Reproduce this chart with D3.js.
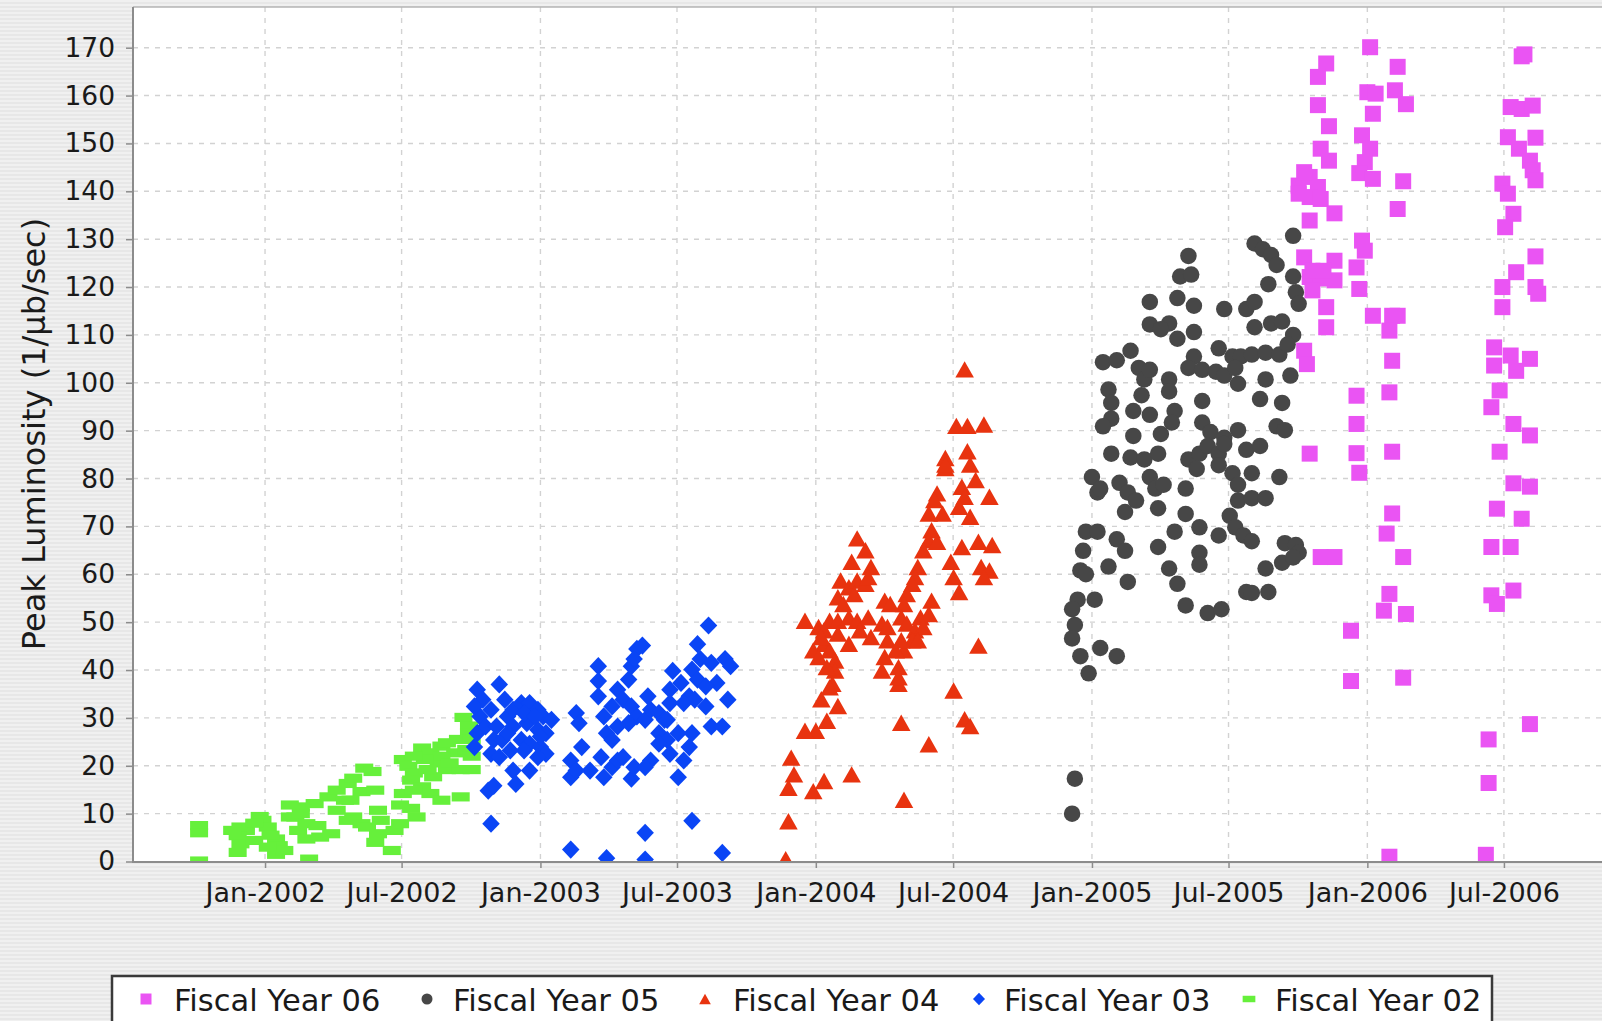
<!DOCTYPE html>
<html><head><meta charset="utf-8">
<script src="https://cdn.jsdelivr.net/npm/d3@7/dist/d3.min.js"></script>
<style>
html,body{margin:0;padding:0;background:#ededed;overflow:hidden}
svg{display:block}
text{font-family:"DejaVu Sans",Verdana,sans-serif}
</style></head>
<body>
<svg id="chart" width="1602" height="1021"></svg>
<script>
// ---- DATA: [fractional year, peak luminosity] ----
const seriesNames = ["Fiscal Year 06","Fiscal Year 05","Fiscal Year 04","Fiscal Year 03","Fiscal Year 02"];

const fy06 = [
[2006.01,170.1],[2005.85,166.7],[2005.82,163.9],[2006.11,166.0],[2005.82,158.0],[2006.00,160.7],[2006.03,160.4],[2006.10,161.1],[2006.14,158.2],[2006.02,156.2],[2005.86,153.6],[2005.98,151.7],[2005.83,148.9],[2005.86,146.4],[2006.01,148.9],[2005.99,146.1],[2005.97,143.8],[2006.02,142.6],[2006.13,142.1],
[2005.75,141.2],[2005.79,143.0],[2005.82,140.9],[2005.79,138.8],[2005.75,139.5],[2005.83,138.4],[2005.77,144.0],
[2005.88,135.4],[2005.79,133.9],[2006.11,136.3],
[2006.56,168.2],[2006.57,168.6],[2006.52,157.6],[2006.56,157.2],[2006.60,157.9],[2006.51,151.3],[2006.61,151.2],[2006.55,148.9],[2006.59,146.4],[2006.60,144.4],[2006.61,142.3],[2006.49,141.6],[2006.51,139.5],[2006.53,135.3],[2006.50,132.5],
[2005.77,126.2],[2005.88,125.5],[2005.79,122.1],[2005.83,121.8],[2005.88,121.4],[2005.80,119.3],[2005.85,115.8],[2005.85,111.6],[2005.98,129.7],[2005.99,127.6],[2005.96,124.1],[2005.97,119.6],[2006.02,114.0],[2006.09,114.0],[2006.11,114.0],[2006.08,110.9],[2006.09,104.6],[2006.08,98.0],[2005.96,97.3],[2005.96,91.4],[2005.77,106.7],[2005.78,103.9],[2005.80,123.4],[2005.84,123.4],
[2006.61,126.4],[2006.54,123.1],[2006.49,120.0],[2006.61,120.0],[2006.62,118.6],[2006.49,115.8],[2006.46,107.4],[2006.46,103.6],[2006.52,105.7],[2006.59,105.0],[2006.54,102.5],[2006.48,98.4],[2006.45,94.9],[2006.53,91.4],[2006.59,89.0],
[2005.79,85.2],[2005.96,85.3],[2006.09,85.6],[2006.48,85.6],[2005.97,81.2],[2006.53,79.0],[2006.59,78.3],[2006.47,73.7],[2006.56,71.6],[2006.09,72.7],[2006.07,68.5],[2006.45,65.7],[2006.52,65.7],[2006.13,63.6],[2005.83,63.6],[2005.88,63.6],[2006.08,55.9],[2006.06,52.4],[2006.14,51.7],[2006.45,55.6],[2006.47,53.8],[2006.53,56.6],[2005.94,48.2],[2005.94,37.7],[2006.13,38.4],[2006.59,28.7],[2006.44,25.5],[2006.44,16.4],[2006.08,1.0],[2006.43,1.4]
];

const fy05 = [
[2005.73,130.7],[2005.59,129.1],[2005.62,127.9],[2005.65,126.7],[2005.67,124.6],[2005.35,126.5],[2005.32,122.2],[2005.36,122.6],[2005.73,122.2],[2005.64,120.6],[2005.74,118.9],[2005.75,116.5],[2005.21,116.9],[2005.31,117.7],[2005.37,116.1],[2005.48,115.4],[2005.56,115.4],[2005.59,116.9],
[2005.21,112.2],[2005.28,112.4],[2005.25,111.2],[2005.31,109.2],[2005.37,110.6],[2005.59,111.6],[2005.65,112.4],[2005.69,112.8],[2005.73,110.0],[2005.46,107.2],[2005.14,106.7],[2005.04,104.3],[2005.09,104.7],[2005.37,105.5],[2005.35,103.1],[2005.40,102.7],[2005.51,105.5],[2005.54,105.5],[2005.58,105.9],[2005.63,106.3],[2005.68,105.9],[2005.71,108.0],[2005.72,101.5],
[2005.06,98.6],[2005.07,95.8],[2005.07,92.5],[2005.04,90.9],[2005.17,103.1],[2005.19,100.7],[2005.21,102.7],[2005.28,100.7],[2005.28,98.2],[2005.18,97.4],[2005.15,94.1],[2005.21,93.3],[2005.30,94.1],[2005.29,91.7],[2005.45,102.3],[2005.48,101.5],[2005.52,103.1],[2005.53,99.8],[2005.63,100.7],[2005.61,96.6],[2005.69,95.8],[2005.67,90.9],[2005.70,90.1],[2005.40,96.2],[2005.40,91.7],[2005.43,89.7],[2005.48,88.5],[2005.53,90.1],[2005.15,88.9],[2005.25,89.3],
[2005.07,85.2],[2005.14,84.4],[2005.19,84.0],[2005.24,85.2],[2005.35,84.0],[2005.39,85.2],[2005.42,86.8],[2005.46,85.2],[2005.48,87.2],[2005.56,86.0],[2005.61,86.8],[2005.38,82.0],[2005.46,82.8],[2005.51,81.1],[2005.53,78.7],[2005.58,81.1],
[2005.00,80.3],[2005.02,77.1],[2005.03,77.9],[2005.10,79.1],[2005.13,77.1],[2005.16,75.4],[2005.12,73.0],[2005.21,80.3],[2005.23,77.9],[2005.26,78.7],[2005.24,73.8],[2005.34,77.9],[2005.34,72.6],[2005.53,75.4],[2005.58,75.9],[2005.63,75.9],[2005.68,80.3],[2005.50,72.2],[2005.46,68.1],[2005.52,69.8],[2005.55,68.1],[2005.58,66.9],[2005.39,69.8],[2005.30,68.9],[2005.24,65.7],
[2004.98,68.9],[2005.02,68.9],[2004.97,64.9],[2004.96,60.8],[2004.98,60.0],[2005.09,67.3],[2005.12,64.9],[2005.06,61.6],[2005.13,58.4],[2005.28,61.2],[2005.31,58.0],[2005.39,64.5],[2005.39,62.0],[2005.69,62.4],[2005.70,66.5],[2005.74,66.1],[2005.75,64.5],[2005.73,63.5],[2005.63,61.2],[2005.56,56.3],[2005.58,56.1],[2005.64,56.3],[2005.34,53.5],[2005.42,51.9],[2005.47,52.7],
[2004.95,54.7],[2005.01,54.7],[2004.93,52.7],[2004.94,49.4],[2004.93,46.6],[2004.96,42.9],[2004.99,39.3],[2005.03,44.6],[2005.09,42.9],[2004.94,17.3],[2004.93,10.0]
];

const fy04 = [
[2004.54,102.8],[2004.51,91.0],[2004.55,91.0],[2004.61,91.3],[2004.55,85.7],[2004.56,82.9],[2004.58,79.7],[2004.47,84.3],[2004.47,82.2],[2004.47,82.9],
[2004.44,76.9],[2004.43,75.5],[2004.53,78.3],[2004.54,76.2],[2004.63,76.2],[2004.41,72.7],[2004.46,72.7],[2004.52,74.1],[2004.56,72.0],[2004.42,69.2],[2004.41,67.1],[2004.44,66.8],[2004.39,65.0],
[2004.53,65.7],[2004.59,66.8],[2004.64,66.1],[2004.49,62.6],[2004.50,59.4],[2004.52,56.3],[2004.60,61.5],[2004.63,60.8],[2004.61,59.4],
[2004.59,45.1],[2004.50,35.7],[2004.54,29.7],[2004.56,28.3],[2004.41,24.5],[2004.31,29.0],[2004.32,12.9],
[2004.37,61.5],[2004.36,59.4],[2004.35,58.0],[2004.33,55.9],[2004.32,53.8],[2004.31,51.0],[2004.33,49.7],[2004.36,48.3],[2004.38,51.0],[2004.41,51.7],[2004.42,54.5],[2004.39,49.0],[2004.35,46.2],[2004.32,44.1],[2004.30,40.6],[2004.30,37.1],[2004.29,44.1],[2004.26,46.2],[2004.25,42.7],[2004.24,39.9],[2004.25,54.5],[2004.27,53.8],[2004.24,49.7],[2004.26,49.0],[2004.31,46.2],[2004.37,46.2],[2004.30,38.5],
[2004.15,67.5],[2004.18,65.0],[2004.13,62.6],[2004.20,61.5],[2004.09,58.7],[2004.12,57.3],[2004.15,58.7],[2004.18,58.0],[2004.08,55.2],[2004.10,53.8],[2004.14,55.9],[2004.19,59.4],
[2003.96,50.3],[2004.01,49.0],[2004.03,48.3],[2004.05,50.3],[2004.08,50.3],[2004.12,51.0],[2004.15,50.3],[2004.19,51.0],[2004.16,48.3],[2004.20,46.9],[2004.12,45.5],[2004.03,45.5],[2003.99,44.1],[2004.01,42.7],[2004.05,44.1],[2004.07,42.0],[2004.07,39.9],[2004.06,37.1],[2004.05,36.4],[2004.02,33.9],[2004.08,32.5],[2004.04,29.4],[2004.00,27.3],[2003.96,27.3],[2003.91,21.7],[2003.92,18.2],[2003.90,15.4],[2003.99,14.7],[2004.03,16.8],[2004.13,18.2],[2003.90,8.4],[2003.89,0.5],[2004.08,47.6],[2004.02,46.9],[2004.04,40.6]
];

const fy03 = [
[2002.77,35.9],[2002.79,33.8],[2002.82,31.7],[2002.85,37.0],[2002.87,33.8],[2002.78,30.3],[2002.77,26.8],[2002.80,28.2],[2002.83,25.4],[2002.82,22.5],[2002.86,25.4],[2002.88,30.3],[2002.90,31.7],[2002.93,33.1],[2002.96,33.1],[2002.99,31.7],[2003.01,30.3],[2003.04,29.6],[2002.90,28.2],[2002.95,28.9],[2002.99,27.5],[2003.02,26.8],[2002.93,25.4],[2002.96,24.6],[2003.00,23.9],[2003.02,22.5],[2002.99,21.8],[2002.94,23.2],[2002.89,23.2],[2002.85,21.8],[2002.90,19.0],[2002.91,16.2],[2002.96,19.0],[2002.81,14.8],[2002.83,15.8],[2002.82,7.9],[2002.76,32.4],[2002.76,23.9],[2002.84,28.2],[2002.94,31.0],[2002.98,30.3],[2003.00,26.1],[2002.88,26.8],
[2003.21,40.8],[2003.21,37.7],[2003.21,34.5],[2003.13,31.0],[2003.14,28.9],[2003.15,23.9],[2003.11,21.1],[2003.11,17.6],[2003.13,19.0],[2003.18,19.0],[2003.22,21.8],[2003.23,17.6],[2003.26,19.7],[2003.28,21.1],[2003.30,21.8],[2003.33,17.3],[2003.34,19.7],[2003.23,30.3],[2003.26,32.4],[2003.28,28.2],[2003.28,35.9],[2003.32,38.0],[2003.33,40.8],[2003.35,44.4],[2003.37,45.1],[2003.34,42.3],[2003.30,33.8],[2003.33,32.4],[2003.35,30.3],[2003.38,29.6],[2003.32,28.9],[2003.40,31.7],[2003.39,34.5],[2003.43,31.0],[2003.45,29.6],[2003.43,26.8],[2003.46,25.4],[2003.50,26.8],[2003.47,22.5],[2003.50,17.6],[2003.52,21.1],[2003.40,21.1],[2003.38,19.7],[2003.43,24.6],[2003.46,29.6],[2003.47,33.1],[2003.51,37.3],[2003.54,34.5],[2003.56,33.8],[2003.60,32.4],[2003.55,40.1],[2003.58,42.3],[2003.62,41.5],[2003.67,42.3],[2003.69,40.8],[2003.64,37.3],[2003.68,33.8],[2003.57,38.0],[2003.54,23.9],[2003.55,26.8],[2003.62,28.2],[2003.66,28.2],[2003.48,39.8],[2003.57,45.4],[2003.61,49.3],[2003.52,33.1],[2003.60,36.6],[2003.47,35.9],[2003.24,26.8],[2003.26,25.4],
[2003.11,2.5],[2003.24,0.7],[2003.38,0.4],[2003.38,6.0],[2003.55,8.5],[2003.66,1.8]
];

const fy02 = [
[2001.76,7.5],[2001.76,6.0],[2001.76,0.1],
[2001.98,9.4],[2001.99,8.6],[2001.91,7.2],[2001.93,6.5],[2001.90,5.4],[2002.01,7.2],[2001.91,3.7],[2001.90,1.9],[2001.96,4.4],[2002.04,4.7],[2002.05,3.3],[2002.04,1.5],[2002.07,2.3],[2002.01,3.0],[2001.88,6.5],[2001.96,8.0],[2002.02,5.5],
[2002.09,11.8],[2002.13,11.4],[2002.18,12.1],[2002.23,13.5],[2002.11,9.3],[2002.15,7.9],[2002.19,7.5],[2002.12,6.5],[2002.20,5.1],[2002.24,5.8],[2002.15,4.7],[2002.16,0.5],[2002.09,9.3],[2002.13,10.0],
[2002.26,14.9],[2002.30,16.3],[2002.32,17.4],[2002.36,19.5],[2002.39,18.8],[2002.35,14.6],[2002.40,14.9],[2002.31,12.8],[2002.26,10.7],[2002.29,12.8],
[2002.32,9.3],[2002.35,7.9],[2002.37,7.2],[2002.41,10.7],[2002.42,8.6],[2002.41,5.8],[2002.40,4.0],[2002.46,2.3],[2002.47,6.5],[2002.49,7.9],[2002.49,11.8],[2002.53,11.1],[2002.55,9.3],[2002.30,8.6],
[2002.50,21.3],[2002.52,19.9],[2002.54,18.5],[2002.57,23.7],[2002.60,22.7],[2002.64,24.1],[2002.66,24.8],[2002.70,25.5],[2002.72,30.1],[2002.74,28.3],[2002.63,20.6],[2002.66,19.2],[2002.71,19.2],[2002.75,19.2],[2002.53,17.0],[2002.57,15.6],[2002.60,14.2],[2002.64,12.8],[2002.71,13.5],[2002.50,14.2],[2002.54,14.9],[2002.61,17.7],[2002.69,22.7],[2002.73,23.4],[2002.75,22.0],[2002.64,22.0],[2002.58,21.3],[2002.67,20.6],[2002.54,22.0],[2002.59,19.2],[2002.74,26.9],[2002.75,25.5]
];

const seriesData = [fy06, fy05, fy04, fy03, fy02];
const seriesColors = ["#ea54f3", "#474747", "#e8330f", "#0a45f5", "#66f03b"];
const yTickValues = d3.range(0, 171, 10);

// ---- LAYOUT ----
const W = 1602, H = 1021;
const plot = {left: 133, right: 1602, top: 7, bottom: 862};

const svg = d3.select("#chart");
const defs = svg.append("defs");
const pat = defs.append("pattern").attr("id","stripes").attr("width",4).attr("height",4).attr("patternUnits","userSpaceOnUse");
pat.append("rect").attr("width",4).attr("height",4).attr("fill","#f0f0f0");
pat.append("rect").attr("y",2).attr("width",4).attr("height",2).attr("fill","#e7e7e7");
defs.append("clipPath").attr("id","plotclip").append("rect")
  .attr("x",plot.left).attr("y",plot.top).attr("width",plot.right-plot.left).attr("height",plot.bottom-plot.top);

svg.append("rect").attr("width",W).attr("height",H).attr("fill","url(#stripes)");
svg.append("rect").attr("x",plot.left).attr("y",plot.top).attr("width",plot.right-plot.left).attr("height",plot.bottom-plot.top).attr("fill","#ffffff");

const toDate = fy => { const y = Math.floor(fy); return new Date(Date.UTC(y,0,1) + (fy - y) * 365.25 * 864e5); };

const x = d3.scaleUtc().domain([new Date(Date.UTC(2001,6,10)), new Date(Date.UTC(2006,10,8))]).range([plot.left, plot.right]);
const y = d3.scaleLinear().domain([0, 178.5]).range([861.5, plot.top]);

const xTicks = x.ticks(d3.utcMonth.every(6));

// grid
const grid = svg.append("g").attr("stroke","#d2d2d2").attr("stroke-width",1.4).attr("stroke-dasharray","5,6");
grid.selectAll(".vg").data(xTicks).join("line")
  .attr("x1",d=>x(d)).attr("x2",d=>x(d)).attr("y1",plot.top).attr("y2",plot.bottom);
grid.selectAll(".hg").data(yTickValues.filter(v=>v>0)).join("line")
  .attr("x1",plot.left).attr("x2",plot.right).attr("y1",d=>y(d)).attr("y2",d=>y(d));

// top outline
svg.append("line").attr("x1",plot.left).attr("x2",plot.right).attr("y1",plot.top).attr("y2",plot.top)
  .attr("stroke","#b4b4b4").attr("stroke-width",1.5);

// shapes
const shapes = [
  s => `M${-s/2},${-s/2}h${s}v${s}h${-s}Z`,
  s => `M${s/2},0A${s/2},${s/2} 0 1,1 ${-s/2},0A${s/2},${s/2} 0 1,1 ${s/2},0Z`,
  s => `M0,${-s*0.47}L${s*0.53},${s*0.47}L${-s*0.53},${s*0.47}Z`,
  s => `M0,${-s*0.52}L${s*0.5},0L0,${s*0.52}L${-s*0.5},0Z`,
  s => `M${-s*0.53},${-s*0.27}h${s*1.06}v${s*0.54}h${-s*1.06}Z`
];
const markSize = [16, 16.5, 17.5, 17.5, 17];

const marks = svg.append("g").attr("clip-path","url(#plotclip)");
for (let i = seriesData.length - 1; i >= 0; i--) {
  marks.append("g").attr("fill", seriesColors[i])
    .selectAll("path").data(seriesData[i]).join("path")
    .attr("transform", d => `translate(${x(toDate(d[0]))},${y(d[1])})`)
    .attr("d", shapes[i](markSize[i]));
}

// axes
const xAxis = d3.axisBottom(x).tickValues(xTicks).tickFormat(d3.utcFormat("%b-%Y")).tickSize(6).tickPadding(15);
const gx = svg.append("g").attr("transform",`translate(0,${plot.bottom})`).call(xAxis);
gx.select(".domain").attr("stroke","#8c8c8c").attr("stroke-width",2).attr("d",`M${plot.left},0H${plot.right}`);
gx.selectAll(".tick line").attr("stroke","#8c8c8c").attr("stroke-width",1.5);
gx.selectAll("text").attr("font-size",27).attr("fill","#1a1a1a").attr("font-family","DejaVu Sans");

const yAxis = d3.axisLeft(y).tickValues(yTickValues).tickSize(7).tickPadding(11);
const gy = svg.append("g").attr("transform",`translate(${plot.left},0)`).call(yAxis);
gy.select(".domain").attr("stroke","#8c8c8c").attr("stroke-width",2).attr("d",`M0,${plot.top}V${plot.bottom+1}`);
gy.selectAll(".tick line").attr("stroke","#8c8c8c").attr("stroke-width",1.5);
gy.selectAll("text").attr("font-size",26.5).attr("fill","#1a1a1a").attr("font-family","DejaVu Sans");

svg.append("text").attr("transform","translate(45,434) rotate(-90)").attr("text-anchor","middle")
  .attr("font-size",32).attr("fill","#1a1a1a").text("Peak Luminosity (1/µb/sec)");

// legend
const lg = svg.append("g");
lg.append("rect").attr("x",112).attr("y",976).attr("width",1380).attr("height",70)
  .attr("fill","#ffffff").attr("stroke","#3a3a3a").attr("stroke-width",2.5);
const legMarkX = [146, 427, 705, 979, 1249];
const legTextX = [174, 453, 733, 1004, 1275];
const legSize = [11, 11, 11, 12, 12];
seriesNames.forEach((name, i) => {
  lg.append("path").attr("transform",`translate(${legMarkX[i]},999)`).attr("d", shapes[i](legSize[i])).attr("fill", seriesColors[i]);
  lg.append("text").attr("x", legTextX[i]).attr("y", 1011).attr("font-size",30.5).attr("fill","#1a1a1a").text(name);
});
</script>
</body></html>
